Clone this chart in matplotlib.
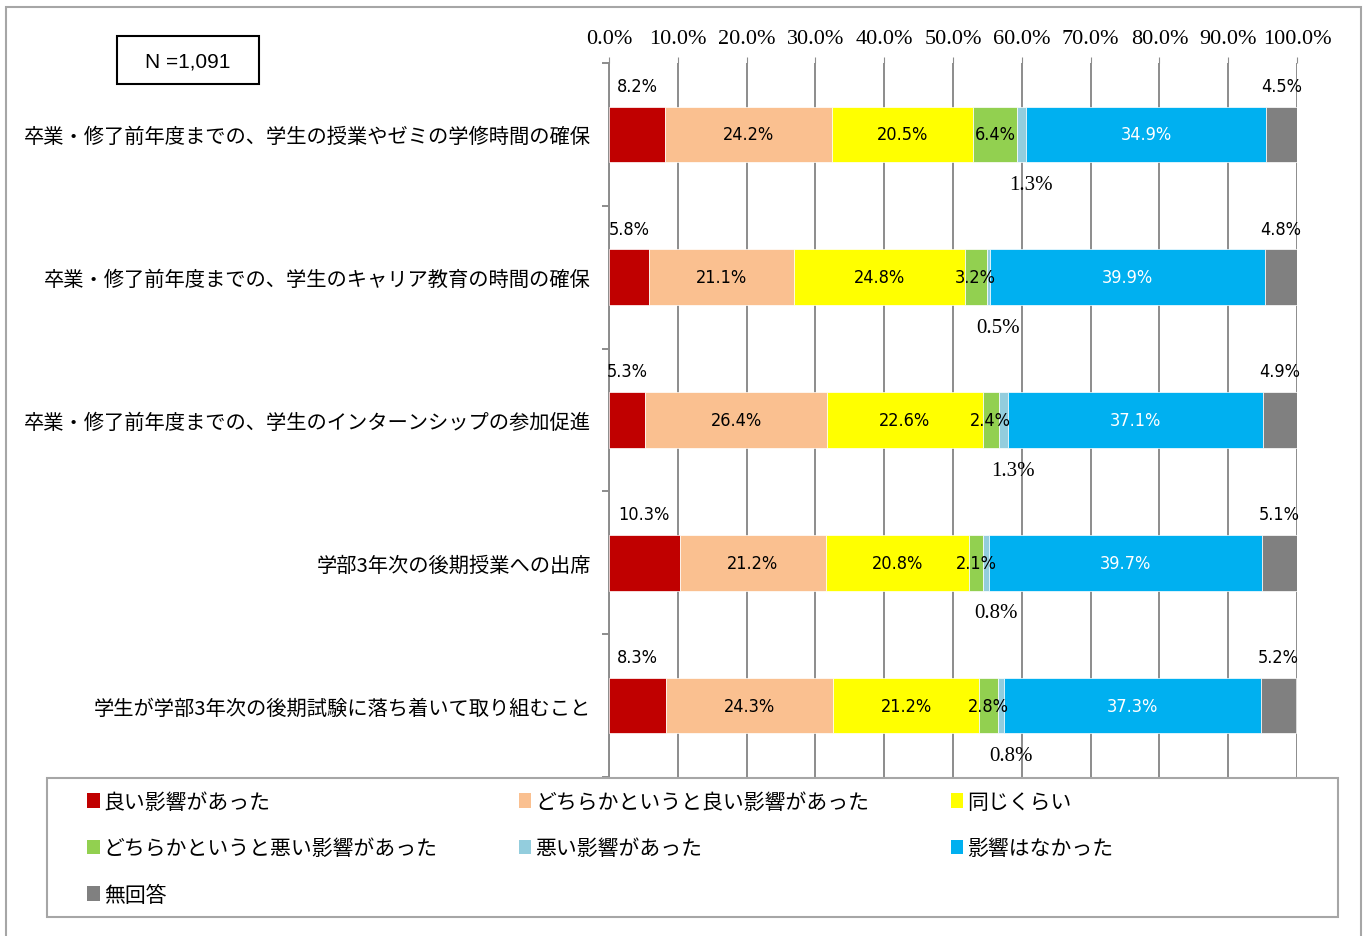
import matplotlib
matplotlib.use('Agg')
import matplotlib.pyplot as plt
import numpy as np
from matplotlib.patches import Patch, Rectangle

plt.rcParams['font.family'] = ['Noto Sans CJK JP', 'DejaVu Sans']

items = [
    '卒業・修了前年度までの、学生の授業やゼミの学修時間の確保',
    '卒業・修了前年度までの、学生のキャリア教育の時間の確保',
    '卒業・修了前年度までの、学生のインターンシップの参加促進',
    '学部3年次の後期授業への出席',
    '学生が学部3年次の後期試験に落ち着いて取り組むこと',
]
answers = ['良い影響があった', 'どちらかというと良い影響があった', '同じくらい',
           'どちらかというと悪い影響があった', '悪い影響があった', '影響はなかった', '無回答']
good = [8.2, 5.8, 5.3, 10.3, 8.3]
rather_good = [24.2, 21.1, 26.4, 21.2, 24.3]
same = [20.5, 24.8, 22.6, 20.8, 21.2]
rather_bad = [6.4, 3.2, 2.4, 2.1, 2.8]
bad = [1.3, 0.5, 1.3, 0.8, 0.8]
no_effect = [34.9, 39.9, 37.1, 39.7, 37.3]
no_answer = [4.5, 4.8, 4.9, 5.1, 5.2]
colors = ['#C00000', '#FAC090', '#FFFF00', '#92D050', '#93CDDD', '#00B0F0', '#808080']

series = [good, rather_good, same, rather_bad, bad, no_effect, no_answer]
# where each series puts its label: above the bar, inside, or below
label_pos = ['above', 'in', 'in', 'in', 'below', 'in', 'above']
label_color = ['black', 'black', 'black', 'black', 'black', 'white', 'black']

W, H = 1367, 937
fig = plt.figure(figsize=(W / 100, H / 100), dpi=100)
ax = fig.add_axes([609 / W, 1 - 778 / H, 688 / W, 714 / H])

y = np.arange(len(items))
left = np.zeros(len(items))
num_kw = dict(family='DejaVu Sans', stretch='condensed', fontsize=13)
for vals, col, pos, lc in zip(series, colors, label_pos, label_color):
    vals = np.array(vals)
    ax.barh(y, vals, left=left, height=0.39, color=col, edgecolor='white', linewidth=0.5, zorder=3)
    for yi, l, v in zip(y, left, vals):
        cx = l + v / 2
        txt = f'{v:.1f}%'
        if pos == 'in':
            ax.annotate(txt, (cx, yi), ha='center', va='center', color=lc, zorder=5, **num_kw)
        elif pos == 'above':
            ax.annotate(txt, (cx, yi), xytext=(0, 35), textcoords='offset points',
                        ha='center', va='center', color=lc, zorder=5, **num_kw)
        else:
            ax.annotate(txt, (cx, yi), xytext=(7, -36), textcoords='offset points',
                        ha='center', va='center', fontsize=15, color=lc,
                        family='Liberation Serif', zorder=5)
    left += vals

ax.set_xlim(0, 100)
ax.set_ylim(len(items) - 0.5, -0.5)
ax.xaxis.tick_top()
ax.set_xticks(np.arange(0, 101, 10))
ax.set_xticklabels([f'{t:.1f}%' for t in np.arange(0, 101, 10)], family='Liberation Serif', fontsize=16)
ax.tick_params(axis='x', length=4, color='#8c8c8c', pad=7)
ax.grid(axis='x', color='#8c8c8c', linewidth=1.4, zorder=0)
ax.set_axisbelow(True)

ax.set_yticks(y)
ax.set_yticklabels(items, fontsize=14.6)
ax.tick_params(axis='y', length=0, pad=13)
ax.set_yticks(np.arange(-0.5, len(items), 1), minor=True)
ax.tick_params(axis='y', which='minor', length=5, color='#8c8c8c', width=1.4)

for s in ['top', 'right', 'bottom']:
    ax.spines[s].set_visible(False)
ax.spines['left'].set_color('#8c8c8c')
ax.spines['left'].set_linewidth(1.4)

# N box
fig.add_artist(Rectangle((117 / W, 1 - 85 / H), 142 / W, 48 / H, transform=fig.transFigure,
                         fill=False, edgecolor='black', linewidth=1.5))
fig.text(188 / W, 1 - 62 / H, 'N =1,091', ha='center', va='center', fontsize=15, family='Liberation Sans')

# legend (row-major order in 3 columns)
handles = [Patch(facecolor=c, edgecolor='none') for c in colors]
order = [0, 3, 6, 1, 4, 2, 5]
fig.legend([handles[i] for i in order], [answers[i] for i in order], ncol=3,
           loc='upper left', bbox_to_anchor=(87 / W, 1 - 792 / H), frameon=False,
           fontsize=15, handlelength=0.6, handleheight=0.7, handletextpad=0.2,
           columnspacing=3.9, labelspacing=1.17, borderpad=0, borderaxespad=0)
fig.add_artist(Rectangle((47 / W, 1 - 918 / H), 1291 / W, 139 / H, transform=fig.transFigure,
                         fill=False, edgecolor='#a6a6a6', linewidth=1.5))
fig.add_artist(Rectangle((6 / W, -0.01), 1355 / W, 1 - 8 / H + 0.01, transform=fig.transFigure,
                         fill=False, edgecolor='#a6a6a6', linewidth=1.5))

fig.savefig('out.png', dpi=100)
